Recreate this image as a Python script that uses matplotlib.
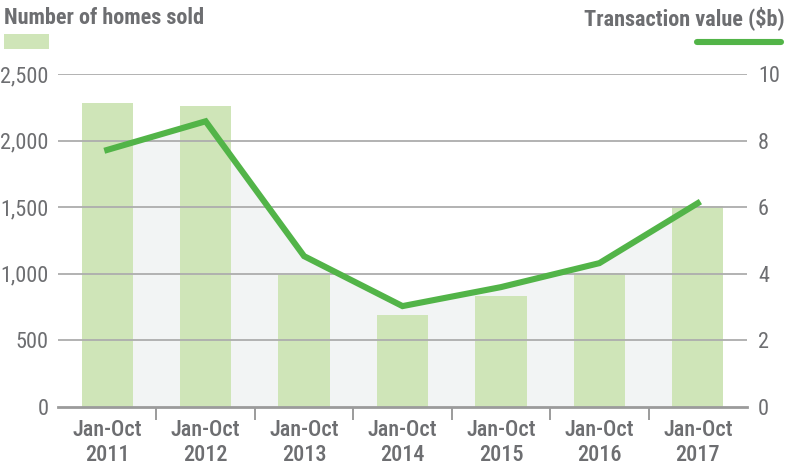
import matplotlib
matplotlib.use("Agg")
import matplotlib.pyplot as plt
from matplotlib import font_manager
from matplotlib.patches import Rectangle
from matplotlib.lines import Line2D

# ---- data ----
categories = ["Jan-Oct\n2011", "Jan-Oct\n2012", "Jan-Oct\n2013", "Jan-Oct\n2014",
              "Jan-Oct\n2015", "Jan-Oct\n2016", "Jan-Oct\n2017"]
homes_sold = [2280, 2260, 990, 690, 835, 1005, 1510]
transaction_value = [7.72, 8.58, 4.53, 3.03, 3.60, 4.32, 6.12]
left_ticks = [0, 500, 1000, 1500, 2000, 2500]
left_ticklabels = ["0", "500", "1,000", "1,500", "2,000", "2,500"]
right_ticks = [0, 2, 4, 6, 8, 10]
right_ticklabels = ["0", "2", "4", "6", "8", "10"]
left_title = "Number of homes sold"
right_title = "Transaction value ($b)"

# ---- font selection ----
names = {f.name for f in font_manager.fontManager.ttflist}
family, fs = "Roboto", 14
for cand, size in [("Liberation Sans Narrow", 16.5), ("Roboto Condensed", 16),
                   ("Open Sans Condensed", 16)]:
    if cand in names:
        family, fs = cand, size
        break
plt.rcParams["font.family"] = [family, "DejaVu Sans"]

TEXT = "#6d6e71"
BAR = "#cfe5b8"
LINE = "#52b448"
AREA = "#f2f4f4"
GRID = "#adadad"
AXIS = "#9b9b9b"

W, H = 790, 466
fig = plt.figure(figsize=(W / 100, H / 100), dpi=100)
ax = fig.add_axes([58 / W, (H - 407) / H, (747 - 58) / W, (407 - 74) / H])
ax2 = ax.twinx()

x = list(range(len(categories)))

ax.set_xlim(-0.5, len(categories) - 0.5)
ax.set_ylim(0, 2500)
ax2.set_ylim(0, 10)

# area under line (drawn in ax with the right-axis scale), below bars
ax.fill_between(x, 0, transaction_value, color=AREA, lw=0, zorder=0.5,
                transform=ax2.transData)
ax.bar(x, homes_sold, width=0.52, color=BAR, zorder=1)

# grid lines on top of bars
for t in left_ticks[1:]:
    ax.axhline(t, color=GRID, lw=1.3, zorder=2)

ax2.plot(x, transaction_value, color=LINE, lw=4.4, zorder=3,
         solid_joinstyle="miter")

for a in (ax, ax2):
    for s in ["top", "left", "right"]:
        a.spines[s].set_visible(False)
ax2.spines["bottom"].set_visible(False)
ax.spines["bottom"].set_color(AXIS)
ax.spines["bottom"].set_linewidth(2.0)
ax.spines["bottom"].set_zorder(4)

ax.set_xticks(x)
ax.set_xticklabels(categories, fontsize=fs, color=TEXT, linespacing=1.12,
                   fontweight="medium")
ax.tick_params(axis="x", which="major", length=0, pad=9)
ax.set_xticks([i + 0.5 for i in x[:-1]], minor=True)
ax.tick_params(axis="x", which="minor", length=9.5, width=1.4, color=AXIS,
               direction="out")

ax.set_yticks(left_ticks)
ax.set_yticklabels(left_ticklabels, fontsize=fs, color=TEXT)
ax.tick_params(axis="y", length=0, pad=7)

ax2.set_yticks(right_ticks)
ax2.set_yticklabels(right_ticklabels, fontsize=fs, color=TEXT)
ax2.tick_params(axis="y", length=0, pad=8)

# titles
fig.text(4 / W, 1 - 18 / H, left_title, fontsize=fs, fontweight="bold",
         color=TEXT, ha="left", va="center")
fig.text(785 / W, 1 - 18 / H, right_title, fontsize=fs, fontweight="bold",
         color=TEXT, ha="right", va="center")

# legend keys
fig.add_artist(Rectangle((4 / W, 1 - 49 / H), 45 / W, 15 / H,
                         transform=fig.transFigure, color=BAR, lw=0))
fig.add_artist(Line2D([697 / W, 781 / W], [1 - 42 / H, 1 - 42 / H],
                      transform=fig.transFigure, color=LINE, lw=4.4,
                      solid_capstyle="round"))

fig.savefig("out.png", dpi=100)
